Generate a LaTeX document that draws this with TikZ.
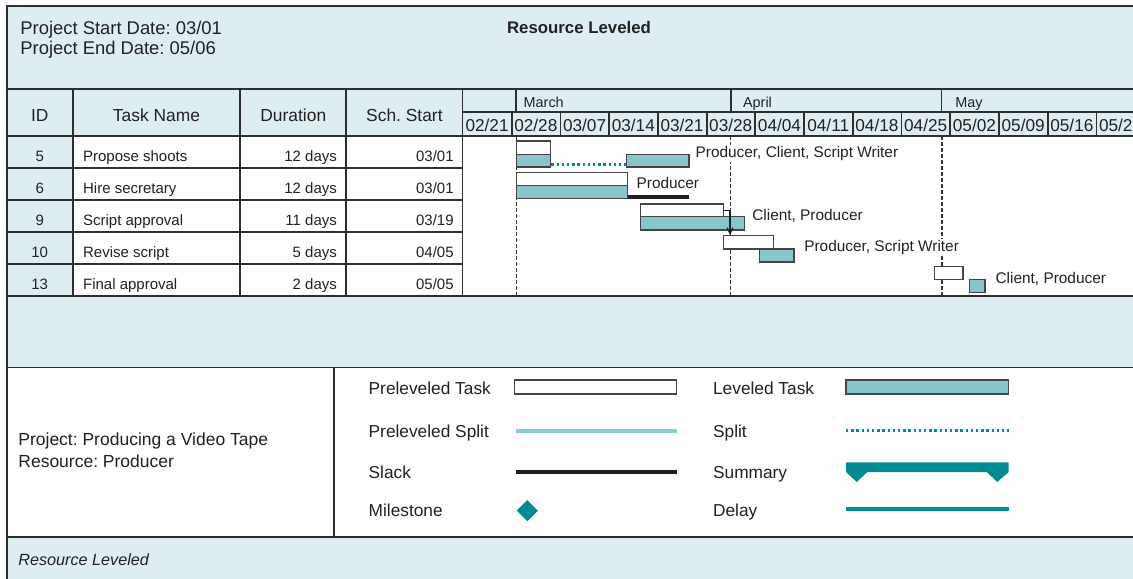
\documentclass[tikz,border=0pt]{standalone}
\usepackage{fontspec}
\setmainfont{Liberation Sans}
\frenchspacing
\usetikzlibrary{arrows.meta,calc,fit,positioning,shapes.geometric}
\definecolor{SheetBlue}{HTML}{DEEDF1}
\definecolor{BarTeal}{HTML}{88C5CC}
\definecolor{DeepTeal}{HTML}{008B94}
\definecolor{SplitTeal}{HTML}{8CC9D1}
\definecolor{GridGray}{HTML}{2E2E2E}
\definecolor{EdgeGray}{HTML}{454545}
\definecolor{InkGray}{HTML}{222222}

\begin{document}
\begin{tikzpicture}[x=0.5pt, y=-0.5pt,
    every node/.style={inner sep=0pt, text=InkGray},
    grid/.style={draw=GridGray, line width=0.9pt},
    hdrtext/.style={font=\fontsize{8.7}{10}\selectfont, anchor=base},
    rowtext/.style={font=\fontsize{7.5}{9}\selectfont},
    weektext/.style={font=\fontsize{8.6}{10}\selectfont, anchor=base},
    monthtext/.style={font=\fontsize{7.2}{9}\selectfont, anchor=base west},
    restext/.style={font=\fontsize{7.7}{9}\selectfont, anchor=base west, fill=white, inner sep=0.6pt},
    legtext/.style={font=\fontsize{8.65}{10}\selectfont, anchor=base west},
    prebar/.style={draw=EdgeGray, fill=white, line width=0.7pt, inner sep=0pt},
    levbar/.style={draw=EdgeGray, fill=BarTeal, line width=0.7pt, inner sep=0pt},
    today/.style={draw=EdgeGray!80!black, line width=0.65pt, dash pattern=on 2pt off 1pt},
    split/.style={draw=DeepTeal, line width=1.6pt, dash pattern=on 1.2pt off 1.4pt},
    presplit/.style={draw=SplitTeal, line width=2pt},
    slack/.style={draw=black!88, line width=2pt},
    delay/.style={draw=DeepTeal, line width=2pt},
    link/.style={draw=InkGray, line width=0.6pt, -{Straight Barb[length=3pt, width=3pt]}}]
    \clip (0,0) rectangle (1133,578);
    \fill[white] (0,0) rectangle (1133,578);

    % bands
    \fill[SheetBlue] (6.7,6) rectangle (1145,136);
    \fill[SheetBlue] (6.7,136) rectangle (72.7,296);
    \fill[SheetBlue] (6.7,296) rectangle (1145,367.5);
    \fill[SheetBlue] (6.7,537) rectangle (1145,590);

    % header
    \node[font=\fontsize{9.2}{10}\selectfont, anchor=base west] (startdate) at (20,34.3) {Project Start Date: 03/01};
    \node[font=\fontsize{9.2}{10}\selectfont, anchor=base west] (enddate) at (20,54.3) {Project End Date: 05/06};
    \node[font=\fontsize{8.4}{10}\selectfont\bfseries, anchor=base] (title) at (579,33.5) {Resource Leveled};

    % table head
    \node[hdrtext] (hid) at (39.7,121.7) {ID};
    \node[hdrtext] (hname) at (156.5,121.7) {Task Name};
    \node[hdrtext] (hdur) at (293.3,121.7) {Duration};
    \node[hdrtext] (hstart) at (404.4,121.7) {Sch. Start};
    \node[monthtext] (march) at (523.3,107.7) {March};
    \node[monthtext] (april) at (742.7,107.7) {April};
    \node[monthtext] (may) at (955,107.7) {May};
    \foreach \mo/\dy [count=\i from 0] in {02/21,02/28,03/07,03/14,03/21,03/28,04/04,04/11,04/18,04/25,05/02,05/09,05/16,05/23} {
      \node[weektext] (wk\i) at (487.1+48.73*\i,131.7) {\mo/\dy};
      \draw[grid] (511.7+48.73*\i,112.3) -- (511.7+48.73*\i,136);
    }

    % table rows
    \foreach \id/\task/\dur/\smo/\sdy [count=\r from 0] in {5/Propose shoots/12 days/03/01, 6/Hire secretary/12 days/03/01, 9/Script approval/11 days/03/19, 10/Revise script/5 days/04/05, 13/Final approval/2 days/05/05} {
      \node[rowtext, anchor=base] (id\r) at (39.7,161+32.1*\r) {\id};
      \node[rowtext, anchor=base west] (task\r) at (82.7,161+32.1*\r) {\task};
      \node[rowtext, anchor=base east] (dur\r) at (337.3,161+32.1*\r) {\dur};
      \node[rowtext, anchor=base east] (start\r) at (454,161+32.1*\r) {\smo/\sdy};
    }

    % status lines
    \draw[today] (516.7,136) -- (516.7,296);
    \draw[today] (730.7,136) -- (730.7,296);
    \draw[today] (942,136) -- (942,296);

    % bars
    \node[prebar, fit={(516.7,141) (550.7,154.3)}] (pre5) {};
    \node[levbar, fit={(516.7,154.3) (550.7,167)}] (lev5a) {};
    \node[levbar, fit={(626.7,154.3) (689,167)}] (lev5b) {};
    \draw[split] ([yshift=1.6pt]lev5a.south east) -- ([yshift=1.6pt]lev5b.south west);

    \node[prebar, fit={(516.7,172.3) (627.3,185.7)}] (pre6) {};
    \node[levbar, fit={(516.7,185.7) (627.3,198.7)}] (lev6) {};
    \coordinate (slack6) at (689,196.7);
    \draw[slack] (lev6.east |- slack6) -- (slack6);

    \node[prebar, fit={(640.7,204) (723.3,216.7)}] (pre9) {};
    \node[levbar, fit={(640.7,216.7) (744.3,230)}] (lev9) {};

    \node[prebar, fit={(723.3,235.7) (773.3,249)}] (pre10) {};
    \node[levbar, fit={(759.3,249) (794,262)}] (lev10) {};

    \node[prebar, fit={(934.3,266.3) (963,279.3)}] (pre13) {};
    \node[levbar, fit={(969.7,279.3) (985,292.3)}] (lev13) {};

    \draw[link] (pre9.east) -| ([xshift=3.7pt]pre10.north west);

    % resources
    \node[restext] (res5) at (694,157.5) {Producer, Client, Script Writer};
    \node[restext] (res6) at (635,188.3) {Producer};
    \node[restext] (res9) at (750.7,220.7) {Client, Producer};
    \node[restext] (res10) at (802.7,251.7) {Producer, Script Writer};
    \node[restext] (res13) at (994,283.3) {Client, Producer};

    % footer
    \node[legtext, font=\fontsize{8.75}{10}\selectfont] (project) at (18,445.5) {Project: Producing a Video Tape};
    \node[legtext, font=\fontsize{8.75}{10}\selectfont] (resource) at (18,467) {Resource: Producer};
    \node[anchor=base west, font=\fontsize{8.1}{10}\selectfont\itshape] (caption) at (18,565) {Resource Leveled};

    % legend
    \node[legtext] (kpretxt) at (368.3,394) {Preleveled Task};
    \node[legtext] (kpstxt) at (368.3,437.3) {Preleveled Split};
    \node[legtext] (kslacktxt) at (368.3,478.7) {Slack};
    \node[legtext] (kmiletxt) at (368.3,516.7) {Milestone};
    \node[legtext] (klevtxt) at (712.7,394) {Leveled Task};
    \node[legtext] (ksplittxt) at (712.7,437.3) {Split};
    \node[legtext] (ksumtxt) at (712.7,478.7) {Summary};
    \node[legtext] (kdelaytxt) at (712.7,516.7) {Delay};

    \node[prebar, fit={(514.3,380) (676.7,394)}] (keypre) {};
    \node[levbar, fit={(846,380) (1008.7,394)}] (keylev) {};
    \draw[presplit] (515.7,430.7) -- (677.3,430.7);
    \draw[split] (846,430.7) -- (1008.7,430.7);
    \draw[slack] (515.7,472) -- (677.3,472);
    \fill[DeepTeal] (846,462.3) -- (1008.7,462.3) -- (1008.7,472) -- (997.3,482) -- (986.7,472)
      -- (867.3,472) -- (856.7,482) -- (846,472) -- cycle;
    \node[diamond, fill=DeepTeal, minimum width=10.7pt, minimum height=10.7pt] (keymile) at (527.3,510.7) {};
    \draw[delay] (846,509.3) -- (1008.7,509.3);

    % rules
    \draw[grid] (6.7,6) rectangle (1145,590);
    \draw[grid] (6.7,89.3) -- (1145,89.3);
    \draw[grid] (6.7,136) -- (1145,136);
    \foreach \y in {167.7,200,232.3,264.3}
      \draw[grid] (6.7,\y) -- (462.5,\y);
    \draw[grid] (6.7,296) -- (1145,296);
    \draw[grid] (6.7,367.5) -- (1145,367.5);
    \draw[grid] (6.7,537) -- (1145,537);
    \foreach \x in {72.7,240.3,346.3,462.5}
      \draw[grid] (\x,89.3) -- (\x,296);
    \draw[grid] (462.5,112.3) -- (1145,112.3);
    \foreach \x in {516,730.7,941.5}
      \draw[grid] (\x,89.3) -- (\x,112.3);
    \draw[grid] (334.3,367.5) -- (334.3,537);
\end{tikzpicture}
\end{document}
